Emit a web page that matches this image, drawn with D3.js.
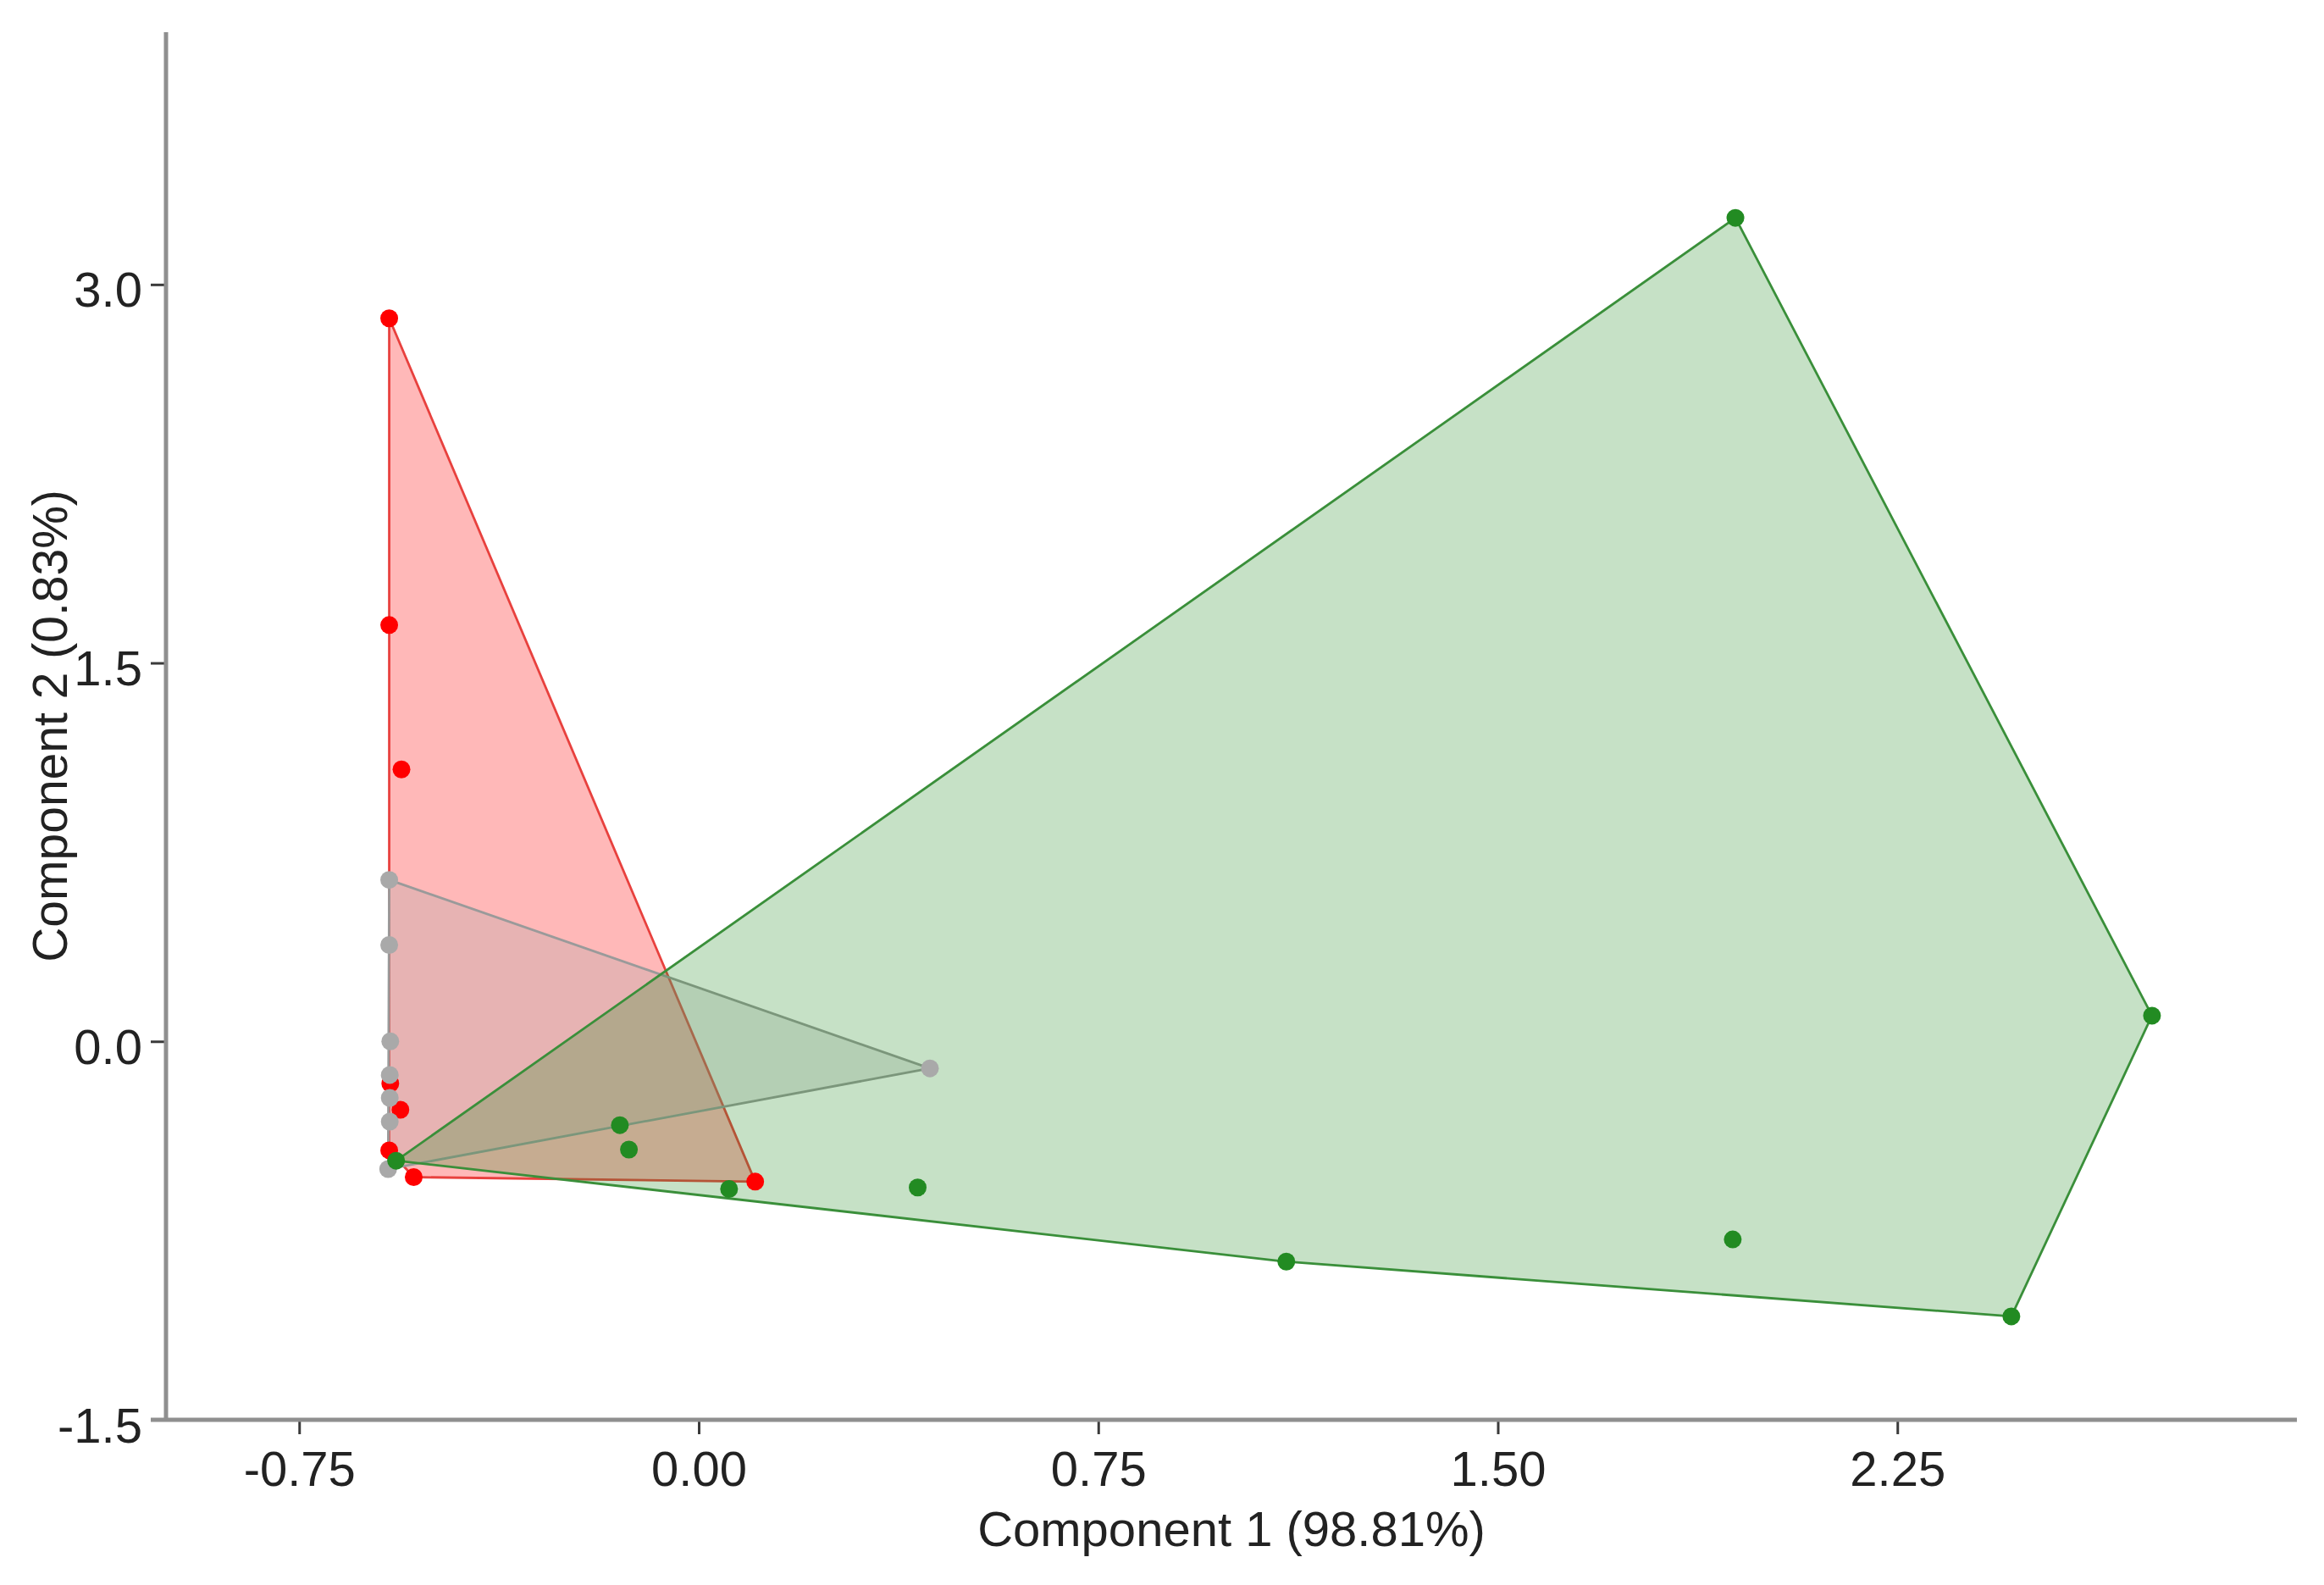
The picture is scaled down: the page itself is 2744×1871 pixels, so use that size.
<!DOCTYPE html>
<html>
<head>
<meta charset="utf-8">
<script src="https://cdn.jsdelivr.net/npm/d3@7"></script>
<style>
  html, body { margin: 0; padding: 0; background: #ffffff; }
  svg text { font-family: "Liberation Sans", Arial, Helvetica, sans-serif; }
</style>
</head>
<body>
<svg id="chart" width="2744" height="1871"></svg>
<script>
// ---- Data ----
const groups = ["red", "gray", "green"];

const redX  = [-0.581, -0.581, -0.558, -0.579, -0.560, -0.581, -0.535, 0.106];
const redY  = [ 2.866,  1.650,  1.078, -0.167, -0.271, -0.432, -0.538, -0.556];

const grayX = [-0.581, -0.581, -0.579, -0.580, -0.580, -0.580, -0.583, 0.434];
const grayY = [ 0.640,  0.382,  0.000, -0.133, -0.224, -0.318, -0.506, -0.107];

const greenX = [1.946, 2.728, 2.464, 1.941, 1.103, 0.411, 0.057, -0.148, -0.131, -0.568];
const greenY = [3.264, 0.102, -1.090, -0.785, -0.873, -0.579, -0.585, -0.332, -0.429, -0.473];

const xTickValues = [-0.75, 0.00, 0.75, 1.50, 2.25];
const xTickLabels = ["-0.75", "0.00", "0.75", "1.50", "2.25"];
const yTickValues = [3.0, 1.5, 0.0, -1.5];
const yTickLabels = ["3.0", "1.5", "0.0", "-1.5"];

const xTitle = "Component 1 (98.81%)";
const yTitle = "Component 2 (0.83%)";

const colors = { red: "#ff0000", gray: "#a9a9a9", green: "#228b22" };
const strokeColors = { red: "#e8413e", gray: "#9a9a9a", green: "#3a8f3a" };
const fillOpacity = { red: 0.28, gray: 0.28, green: 0.26 };

// ---- Layout ----
const svg = d3.select("#chart");
const x = d3.scaleLinear().domain([-1.0, 3.0]).range([196, 2712]);
const y = d3.scaleLinear().domain([-1.5, 4.0]).range([1676, 38]);

const series = {
  red:   redX.map((v, i) => [v, redY[i]]),
  gray:  grayX.map((v, i) => [v, grayY[i]]),
  green: greenX.map((v, i) => [v, greenY[i]])
};

// ---- Hull polygons ----
const gPoly = svg.append("g");
groups.forEach(g => {
  const pts = series[g].map(d => [x(d[0]), y(d[1])]);
  const hull = d3.polygonHull(pts);
  gPoly.append("path")
    .attr("d", "M" + hull.map(p => p.join(",")).join("L") + "Z")
    .attr("fill", colors[g])
    .attr("fill-opacity", fillOpacity[g])
    .attr("stroke", strokeColors[g])
    .attr("stroke-width", 2.8)
    .attr("stroke-linejoin", "round");
});

// ---- Points ----
const gPts = svg.append("g");
groups.forEach(g => {
  gPts.selectAll(null)
    .data(series[g])
    .enter().append("circle")
    .attr("cx", d => x(d[0]))
    .attr("cy", d => y(d[1]))
    .attr("r", 10.5)
    .attr("fill", colors[g]);
});

// ---- Axes ----
const xAxis = d3.axisBottom(x)
  .tickValues(xTickValues)
  .tickFormat((d, i) => xTickLabels[i])
  .tickSize(17)
  .tickPadding(20);
const yAxis = d3.axisLeft(y)
  .tickValues(yTickValues)
  .tickFormat((d, i) => yTickLabels[i])
  .tickSize(18)
  .tickPadding(10);

const gx = svg.append("g").attr("transform", `translate(0,${y(-1.5)})`).call(xAxis);
const gy = svg.append("g").attr("transform", `translate(${x(-1.0)},0)`).call(yAxis);

[gx, gy].forEach(ax => {
  ax.select(".domain").remove();
  ax.selectAll(".tick line").attr("stroke", "#3a3a3a").attr("stroke-width", 3);
  ax.selectAll(".tick text")
    .attr("fill", "#222")
    .style("font-size", "58px");
});
gy.selectAll(".tick text").attr("dy", "0.45em");

// axis lines
svg.append("line")
  .attr("x1", x(-1.0) - 18).attr("x2", x(3.0))
  .attr("y1", y(-1.5)).attr("y2", y(-1.5))
  .attr("stroke", "#8f8f8f").attr("stroke-width", 5);
svg.append("line")
  .attr("x1", x(-1.0)).attr("x2", x(-1.0))
  .attr("y1", y(4.0)).attr("y2", y(-1.5))
  .attr("stroke", "#8f8f8f").attr("stroke-width", 5);

// ---- Titles ----
svg.append("text")
  .attr("x", (x.range()[0] + x.range()[1]) / 2)
  .attr("y", 1825)
  .attr("text-anchor", "middle")
  .attr("fill", "#222")
  .style("font-size", "58px")
  .text(xTitle);

svg.append("text")
  .attr("transform", `translate(79,${(y.range()[0] + y.range()[1]) / 2}) rotate(-90)`)
  .attr("text-anchor", "middle")
  .attr("fill", "#222")
  .style("font-size", "57px")
  .text(yTitle);
</script>
</body>
</html>
